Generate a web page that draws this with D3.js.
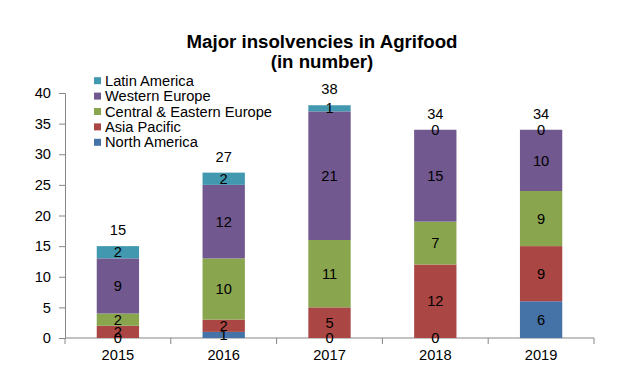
<!DOCTYPE html>
<html><head><meta charset="utf-8">
<script src="https://cdn.jsdelivr.net/npm/d3@7"></script>
<style>body{margin:0;background:#fff}svg{display:block;font-family:"Liberation Sans",Arial,sans-serif}</style>
</head><body><svg id="c" width="630" height="388"></svg>
<script>
const years = ["2015","2016","2017","2018","2019"];
const seriesNames = ["North America","Asia Pacific","Central & Eastern Europe","Western Europe","Latin America"];
const northAmerica = [0,1,0,0,6];
const asiaPacific = [2,2,5,12,9];
const centralEastEurope = [2,10,11,7,9];
const westernEurope = [9,12,21,15,10];
const latinAmerica = [2,2,1,0,0];
const totals = [15,27,38,34,34];
const yTicks = [0,5,10,15,20,25,30,35,40];
const colors = ["#4572A7","#AA4643","#89A54E","#71588F","#4198AF"];

const FS = 14.67;
const valuesBySeries = [northAmerica, asiaPacific, centralEastEurope, westernEurope, latinAmerica];
const rows = years.map((y,i)=>{const r={year:y}; seriesNames.forEach((s,k)=>r[s]=valuesBySeries[k][i]); return r;});
const stack = d3.stack().keys(seriesNames)(rows);

const svg = d3.select("#c");
const x = d3.scaleBand().domain(years).range([65,594]).paddingInner(0).paddingOuter(0);
const y = d3.scaleLinear().domain([0,40]).range([338,93]);
const barW = x.bandwidth()*0.4;

// axes
const yAxis = svg.append("g").attr("transform","translate(65,0)")
  .call(d3.axisLeft(y).tickValues(yTicks).tickSize(6).tickPadding(8));
yAxis.selectAll("path,line").attr("stroke","#868686");
yAxis.selectAll("text").attr("font-size",FS).attr("fill","#000").attr("font-family","Liberation Sans, Arial, sans-serif");

const xAxis = svg.append("g").attr("transform","translate(0,338)")
  .call(d3.axisBottom(x).tickSize(0).tickPadding(12));
xAxis.select("path").attr("stroke","#868686").attr("d","M65,0H594");
xAxis.selectAll("text").attr("font-size",FS).attr("fill","#000").attr("font-family","Liberation Sans, Arial, sans-serif");
// category boundary ticks
const bounds = years.map(d=>x(d)).concat([x(years[years.length-1])+x.bandwidth()]);
svg.append("g").selectAll("line").data(bounds).join("line")
  .attr("x1",d=>d).attr("x2",d=>d).attr("y1",338).attr("y2",344).attr("stroke","#868686");

// bars
const layers = svg.append("g").selectAll("g").data(stack).join("g").attr("fill",(d,i)=>colors[i]);
layers.selectAll("rect").data(d=>d).join("rect")
  .attr("x",d=>x(d.data.year)+x.bandwidth()/2-barW/2)
  .attr("width",barW)
  .attr("y",d=>y(d[1]))
  .attr("height",d=>y(d[0])-y(d[1]));

// segment labels
const lab = svg.append("g").attr("font-size",FS).attr("fill","#000").attr("text-anchor","middle");
stack.forEach(layer=>{
  layer.forEach(d=>{
    lab.append("text").attr("x",x(d.data.year)+x.bandwidth()/2)
      .attr("y",(y(d[0])+y(d[1]))/2).attr("dy","0.35em").text(d[1]-d[0]);
  });
});
// totals
svg.append("g").attr("font-size",FS).attr("text-anchor","middle").selectAll("text").data(totals).join("text")
  .attr("x",(d,i)=>x(years[i])+x.bandwidth()/2).attr("y",d=>y(d)-11).text(d=>d);

// title
const t = svg.append("text").attr("x",322).attr("text-anchor","middle").attr("font-weight","bold").attr("font-size",18.67);
t.append("tspan").attr("x",322).attr("y",48).text("Major insolvencies in Agrifood");
t.append("tspan").attr("x",322).attr("y",68).text("(in number)");

// legend (reverse order)
const legOrder = [4,3,2,1,0];
const leg = svg.append("g").selectAll("g").data(legOrder).join("g")
  .attr("transform",(d,i)=>`translate(94,${80.7+i*15.4})`);
leg.append("rect").attr("x",0).attr("y",-3.5).attr("width",7).attr("height",7).attr("fill",d=>colors[d]);
leg.append("text").attr("x",11).attr("dy","0.35em").attr("font-size",FS).text(d=>seriesNames[d]);
</script></body></html>
